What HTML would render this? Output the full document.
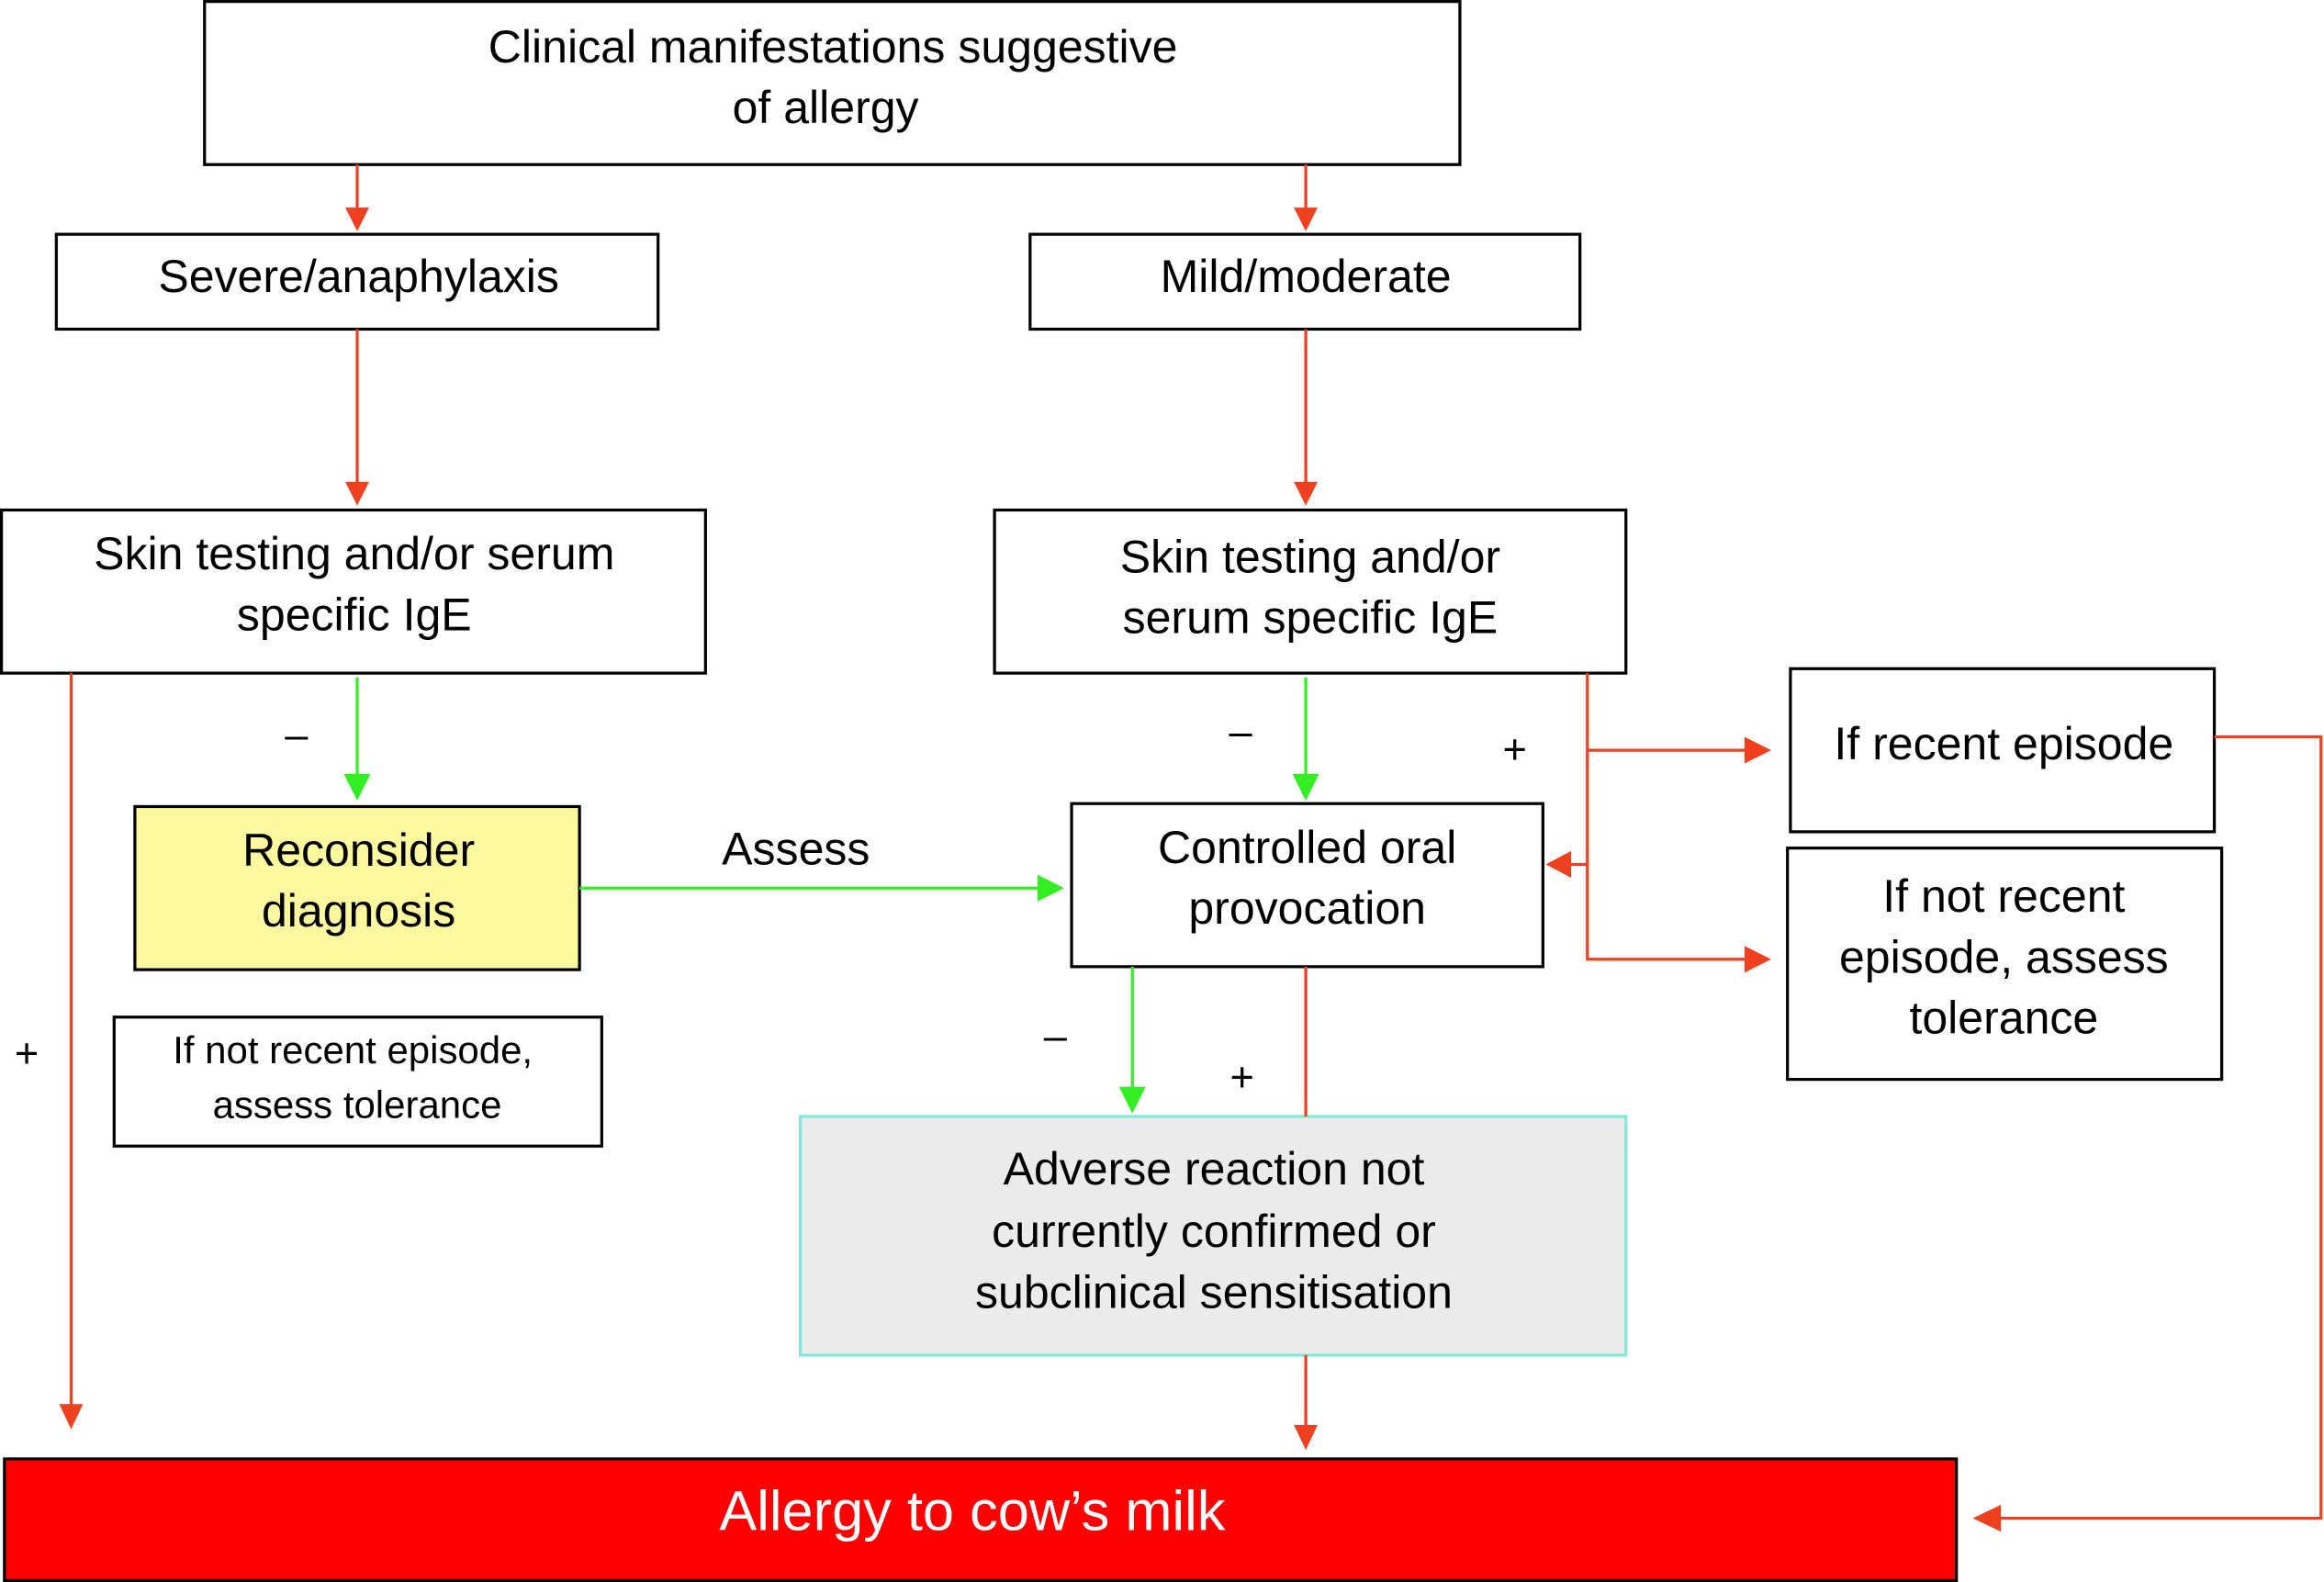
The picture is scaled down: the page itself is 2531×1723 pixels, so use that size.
<!DOCTYPE html>
<html><head><meta charset="utf-8"><style>
html,body{margin:0;padding:0;background:#fff;}
svg{display:block;}
text{font-family:"Liberation Sans",Arial,sans-serif;fill:#000;}
</style></head><body>
<svg width="2531" height="1723" viewBox="0 0 1568 1067" preserveAspectRatio="none" xmlns="http://www.w3.org/2000/svg">
<defs>
<marker id="r" markerWidth="10" markerHeight="10" refX="10" refY="5" orient="auto" markerUnits="userSpaceOnUse"><path d="M0,0 L10,5 L0,10 Z" fill="none"/></marker>
</defs>
<g stroke="#000" stroke-width="2" fill="#fff">
<rect x="138" y="1" width="847" height="110"/>
<rect x="38" y="158" width="406" height="64"/>
<rect x="695" y="158" width="371" height="64"/>
<rect x="1" y="344" width="475" height="110"/>
<rect x="671" y="344" width="426" height="110"/>
<rect x="91" y="544" width="300" height="110" fill="#fbf8a0"/>
<rect x="723" y="542" width="318" height="110"/>
<rect x="1208" y="451" width="286" height="110"/>
<rect x="1206" y="572" width="293" height="156"/>
<rect x="77" y="686" width="329" height="87"/>
<rect x="540" y="753" width="557" height="161" fill="#ebebeb" stroke="#7fe8d8"/>
<rect x="3" y="984" width="1317" height="82" fill="#ff0000"/>
</g>
<g stroke="#ef4020" stroke-width="2" fill="none">
<line x1="241" y1="111" x2="241" y2="145"/>
<line x1="881" y1="111" x2="881" y2="145"/>
<line x1="241" y1="222" x2="241" y2="330"/>
<line x1="881" y1="222" x2="881" y2="330"/>
<line x1="48" y1="454" x2="48" y2="950"/>
<polyline points="1071,454 1071,647 1180,647"/>
<line x1="1071" y1="506" x2="1180" y2="506"/>
<line x1="1071" y1="583" x2="1058" y2="583"/>
<line x1="881" y1="652" x2="881" y2="753"/>
<line x1="881" y1="914" x2="881" y2="965"/>
<polyline points="1494,497 1566,497 1566,1024 1348,1024"/>
</g>
<g fill="#ef4020">
<path d="M233,140 L249,140 L241,156 Z"/>
<path d="M873,140 L889,140 L881,156 Z"/>
<path d="M233,325 L249,325 L241,341 Z"/>
<path d="M873,325 L889,325 L881,341 Z"/>
<path d="M40,947 L56,947 L48,964 Z"/>
<path d="M1177,497 L1195,506 L1177,515 Z"/>
<path d="M1177,638 L1195,647 L1177,656 Z"/>
<path d="M1060,574 L1043,583 L1060,592 Z"/>
<path d="M873,961 L889,961 L881,978 Z"/>
<path d="M1350,1015 L1331,1024 L1350,1033 Z"/>
</g>
<g stroke="#33ee22" stroke-width="2" fill="none">
<line x1="241" y1="457" x2="241" y2="525"/>
<line x1="881" y1="457" x2="881" y2="525"/>
<line x1="391" y1="599" x2="703" y2="599"/>
<line x1="764" y1="652" x2="764" y2="735"/>
</g>
<g fill="#33ee22">
<path d="M232,522 L250,522 L241,540 Z"/>
<path d="M872,522 L890,522 L881,540 Z"/>
<path d="M700,590 L718,599 L700,608 Z"/>
<path d="M755,733 L773,733 L764,751 Z"/>
</g>
<g font-size="31" text-anchor="middle">
<text x="562" y="42">Clinical manifestations suggestive</text>
<text x="557" y="83">of allergy</text>
<text x="242" y="197">Severe/anaphylaxis</text>
<text x="881" y="197">Mild/moderate</text>
<text x="239" y="384">Skin testing and/or serum</text>
<text x="239" y="425">specific IgE</text>
<text x="884" y="386">Skin testing and/or</text>
<text x="884" y="427">serum specific IgE</text>
<text x="242" y="584">Reconsider</text>
<text x="242" y="625">diagnosis</text>
<text x="537" y="583">Assess</text>
<text x="882" y="582">Controlled oral</text>
<text x="882" y="623">provocation</text>
<text x="1352" y="512">If recent episode</text>
<text x="1352" y="615">If not recent</text>
<text x="1352" y="656">episode, assess</text>
<text x="1352" y="697">tolerance</text>
<text x="819" y="799">Adverse reaction not</text>
<text x="819" y="841">currently confirmed or</text>
<text x="819" y="882">subclinical sensitisation</text>
<text x="656" y="1032" font-size="38" style="fill:#fff">Allergy to cow’s milk</text>
<text x="238" y="717" font-size="26">If not recent episode,</text>
<text x="241" y="754" font-size="26">assess tolerance</text>
<text x="200" y="505" font-size="28">–</text>
<text x="837" y="503" font-size="28">–</text>
<text x="712" y="708" font-size="28">–</text>
<text x="1022" y="515" font-size="28">+</text>
<text x="838" y="736" font-size="28">+</text>
<text x="18" y="720" font-size="28">+</text>
</g>
</svg>
</body></html>
